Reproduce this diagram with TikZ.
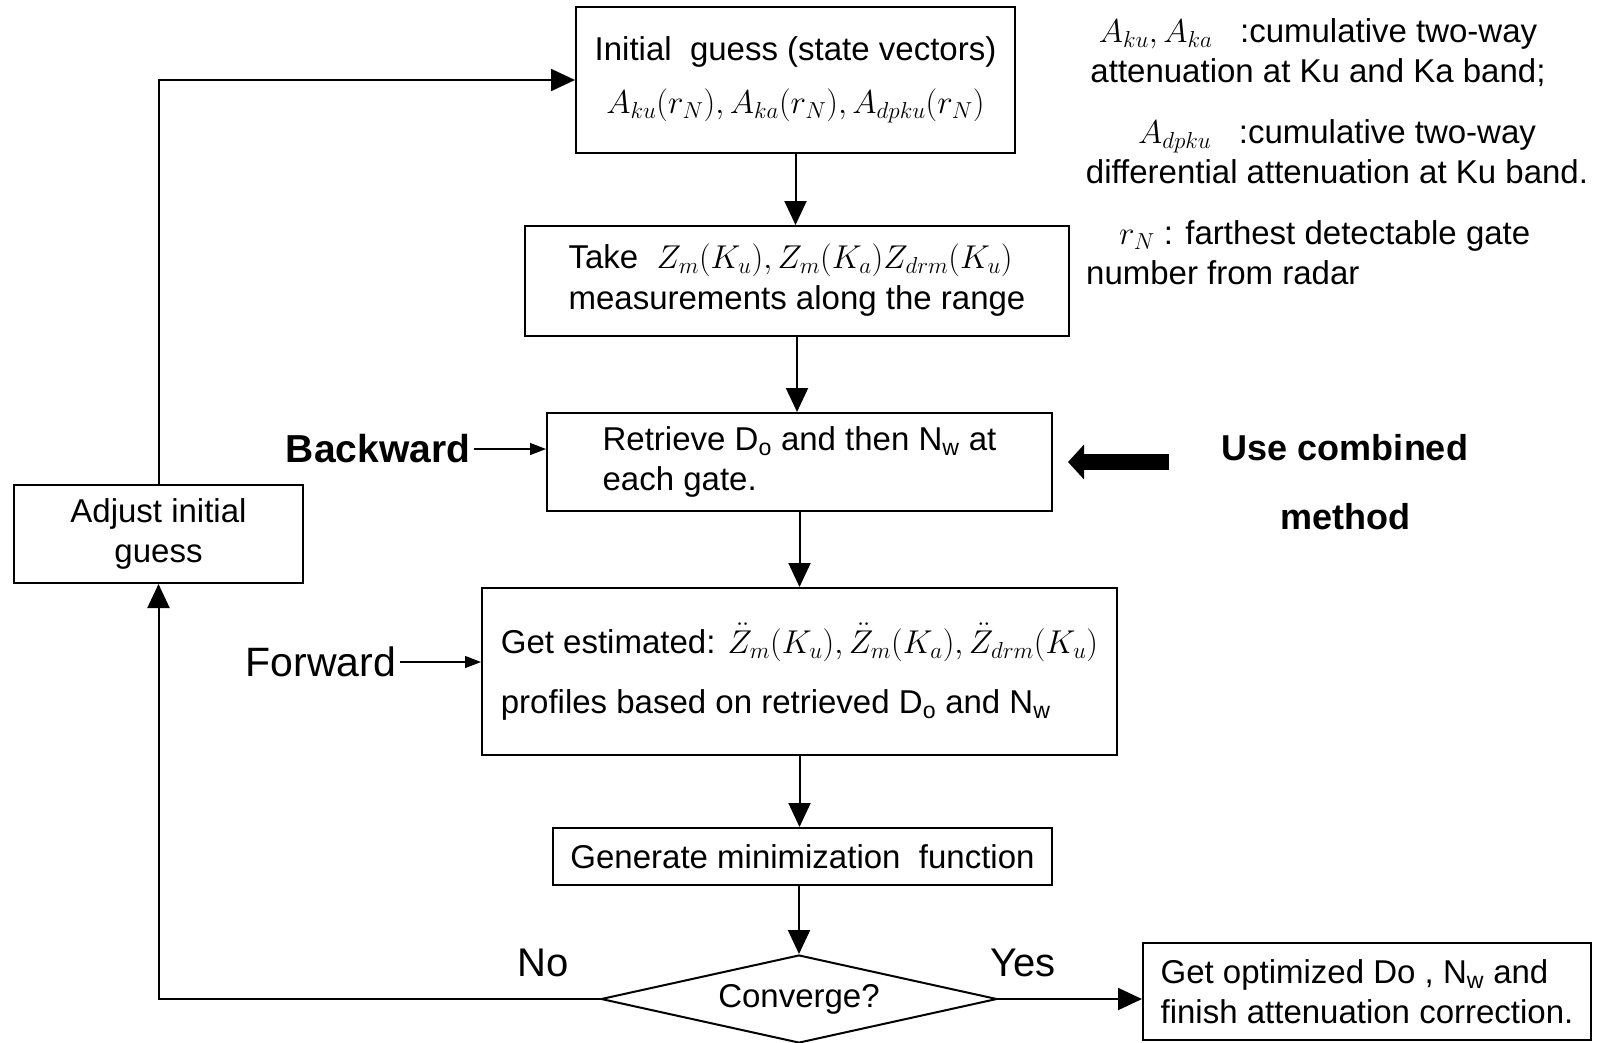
\RequirePackage{fix-cm}
\documentclass[tikz,border=0pt]{standalone}
\usepackage{fontspec}
\setmainfont{Liberation Sans}
\usepackage{tikz}
\usetikzlibrary{shapes.geometric, arrows.meta, positioning, calc}

\begin{document}
\begin{tikzpicture}[x=1pt, y=-1pt,
    box/.style={draw, line width=2pt, inner sep=0pt, font=\fontsize{33}{40}\selectfont},
    flow/.style={line width=2pt, -{Triangle[length=24pt, width=22pt]}},
    thinflow/.style={line width=1.3pt, -{Triangle[length=16pt, width=12pt]}},
    bigflow/.style={line width=16pt, -{Triangle[length=16pt, width=34pt]}},
    lbl/.style={font=\fontsize{40}{48}\selectfont},
    legend/.style={font=\fontsize{33}{40}\selectfont, inner sep=0pt}]
    \useasboundingbox (0,0) rectangle (1598,1042);
    % main chain
    \node[box, minimum width=439pt, minimum height=146pt, align=center] (init) at (795.5,80)
        {Initial\ \ guess (state vectors)\\[13pt] $A_{ku}(r_N), A_{ka}(r_N), A_{dpku}(r_N)$};
    \node[box, minimum width=544pt, minimum height=110pt, align=left, text depth=8pt] (take) at (797,281)
        {Take\ \ $Z_m(K_u), Z_m(K_a) Z_{drm}(K_u)$\\[1pt] measurements along the range};
    \node[box, minimum width=505pt, minimum height=98pt, align=left] (ret) at (799.5,462)
        {Retrieve D\textsubscript{o} and then N\textsubscript{w} at\\ each gate.};
    \node[box, minimum width=635pt, minimum height=167pt, align=left] (est) at (799.5,671.5)
        {Get estimated: $\ddot{Z}_m(K_u), \ddot{Z}_m(K_a), \ddot{Z}_{drm}(K_u)$\\[20pt]
         profiles based on retrieved D\textsubscript{o} and N\textsubscript{w}};
    \node[box, minimum width=499pt, minimum height=57pt] (gen) at (802.5,856.5)
        {Generate minimization\ \ function};
    \node[box, shape=diamond, aspect=4.5, minimum width=396pt, minimum height=88pt] (conv) at (799,999)
        {Converge?};
    \node[box, minimum width=448pt, minimum height=97pt, align=left] (opt) at (1367,991.5)
        {Get optimized Do , N\textsubscript{w} and\\ finish attenuation correction.};
    \node[box, minimum width=289pt, minimum height=98pt, align=center] (adj) at (158.5,534)
        {Adjust initial\\ guess};
    % side labels
    \node[lbl, font=\bfseries\fontsize{39}{46}\selectfont] (bwd) at (378,449) {Backward};
    \node[lbl, font=\fontsize{41}{48}\selectfont] (fwd) at (321,662) {Forward};
    \node[font=\bfseries\fontsize{36}{69}\selectfont, align=center] (ucm) at (1345,482) {Use combined\\ method};
    \coordinate (ucmtail) at (1169,462);
    \node[lbl] (no) at (543,963) {No};
    \node[lbl] (yes) at (1023,963) {Yes};
    % legend
    \node[legend, align=center] (leg1) at (1318,53)
        {$A_{ku}, A_{ka}$\ \ \ :cumulative two-way\\ attenuation at Ku and Ka band;};
    \node[legend, align=center] (leg2) at (1337,152)
        {$A_{dpku}$\ \ \ :cumulative two-way\\ differential attenuation at Ku band.};
    \node[legend, align=left, anchor=west] (leg3) at (1086,253)
        {\hspace*{33pt}$r_N$ : farthest detectable gate\\ number from radar};
    % connectors
    \draw[flow] (init.south) -- (init.south |- take.north);
    \draw[flow] (take.south) -- (take.south |- ret.north);
    \draw[flow] (ret.south) -- (ret.south |- est.north);
    \draw[flow] (est.south) -- (est.south |- gen.north);
    \draw[flow] (conv.north |- gen.south) -- (conv.north);
    \draw[flow] (conv.east) -- (conv.east -| opt.west);
    \draw[flow] (conv.west) -| (adj.south);
    \draw[flow] (adj.north) |- (init.west);
    \draw[thinflow] (bwd.east) -- (bwd.east -| ret.west);
    \draw[thinflow] (fwd.east) -- (fwd.east -| est.west);
    \draw[bigflow] (ucmtail) -- ([xshift=15pt]ret.east);
\end{tikzpicture}
\end{document}
